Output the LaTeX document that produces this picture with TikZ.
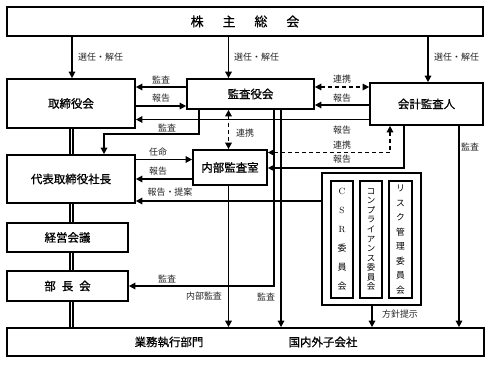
\documentclass[tikz,border=0pt]{standalone}
\usepackage{fontspec}
\newfontfamily\jp{Noto Sans CJK JP}
\newfontfamily\jpm{Noto Sans CJK JP}[FakeBold=0.8]
\usetikzlibrary{arrows.meta}
\begin{document}
\begin{tikzpicture}[x=1bp,y=-1bp,
  box/.style={draw,line width=1.7bp,inner sep=0pt,font=\jpm\fontsize{11.5}{13}\selectfont},
  inbox/.style={draw,line width=1.6bp,inner sep=0pt,align=center},
  lbl/.style={font=\jp\fontsize{9}{10}\selectfont,inner sep=0pt,text=black!85},
  arr/.style={line width=1.5bp,-{Triangle[length=6.5bp,width=6.5bp]}},
  barr/.style={line width=1.5bp,{Triangle[length=6.5bp,width=6.5bp]}-{Triangle[length=6.5bp,width=6.5bp]}},
  dsh/.style={dash pattern=on 4bp off 3bp},
  dbl/.style={double,line width=1.3bp,double distance=1.5bp}]
\useasboundingbox (0,0) rectangle (492,364);
% boxes
\node[box,minimum width=476bp,minimum height=29bp,font=\jpm\fontsize{13}{15}\selectfont] (sh) at (245,21.5)
  {株\hspace{19pt}主\hspace{19pt}総\hspace{19pt}会};
\node[box,minimum width=128bp,minimum height=49bp] (tor) at (71,103.5) {取締役会};
\node[box,minimum width=127bp,minimum height=30bp] (kan) at (250.5,94) {監査役会};
\node[box,minimum width=113bp,minimum height=42bp] (kai) at (426.5,104) {会計監査人};
\node[box,minimum width=74bp,minimum height=35bp] (naibu) at (230,167.5) {内部監査室};
\node[box,minimum width=128bp,minimum height=48bp] (pres) at (71,179) {代表取締役社長};
\node[box,minimum width=121bp,minimum height=29bp] (keiei) at (67.5,237.5) {経営会議};
\node[box,minimum width=121bp,minimum height=30bp] (bucho) at (67.5,286) {部\hspace{6pt}長\hspace{6pt}会};
\node[box,minimum width=477bp,minimum height=28bp] (bot) at (245.5,342) {};
\node[font=\jpm\fontsize{11.5}{13}\selectfont] (gyomu) at (169,342) {業務執行部門};
\node[font=\jpm\fontsize{11.5}{13}\selectfont] (kokunai) at (323,342) {国内外子会社};
\node[box,minimum width=99bp,minimum height=132bp] (csr) at (371.5,239) {};
\node[inbox,minimum width=22bp,minimum height=117bp,font=\fontsize{9}{19}\selectfont] (c1) at (342,239.5)
  {C\\S\\R\\{\jp 委}\\{\jp 員}\\{\jp 会}};
\node[inbox,minimum width=22bp,minimum height=117bp,font=\jp\fontsize{8.5}{9.6}\selectfont] (c2) at (371,239.5)
  {コ\\ン\\プ\\ラ\\イ\\ア\\ン\\ス\\委\\員\\会};
\node[inbox,minimum width=23bp,minimum height=117bp,font=\jp\fontsize{8.8}{14.5}\selectfont] (c3) at (400.5,239.5)
  {リ\\ス\\ク\\管\\理\\委\\員\\会};
% x positions
\coordinate (xa) at (72,0);
\coordinate (xb) at (228.5,0);
\coordinate (xc) at (428,0);
\coordinate (dl) at (71.5,0);
% double line chain
\draw[dbl] (tor.south -| dl) -- (pres.north -| dl);
\draw[dbl] (pres.south -| dl) -- (keiei.north -| dl);
\draw[dbl] (keiei.south -| dl) -- (bucho.north -| dl);
\draw[dbl] (bucho.south -| dl) -- (bot.north -| dl);
% election arrows
\draw[arr] (sh.south -| xa) -- (tor.north -| xa);
\draw[arr] (sh.south -| xb) -- (kan.north -| xb);
\draw[arr] (sh.south -| xc) -- (kai.north -| xc);
\node[lbl,anchor=west] (l1) at (78,57) {選任・解任};
\node[lbl,anchor=west] (l2) at (234,57) {選任・解任};
\node[lbl,anchor=west] (l3) at (434,57) {選任・解任};
% kan <-> tor
\coordinate (y87) at (0,87);
\coordinate (y106) at (0,106);
\draw[arr] (kan.west |- y87) -- (tor.east |- y87);
\draw[arr] (tor.east |- y106) -- (kan.west |- y106);
\node[lbl] (l4) at (161,80) {監査};
\node[lbl] (l5) at (161,98.5) {報告};
% kan <-> kai
\draw[barr,dsh] (kan.east |- y87) -- (kai.west |- y87);
\coordinate (y105) at (0,105);
\draw[arr] (kai.west |- y105) -- (kan.east |- y105);
\node[lbl] (l6) at (342,79.5) {連携};
\node[lbl] (l7) at (342,98) {報告};
% kai -> tor
\coordinate (y119) at (0,119.5);
\draw[arr] (kai.west |- y119) -- (tor.east |- y119);
\node[lbl] (l8) at (342,130) {報告};
% kan -> pres
\coordinate (p1) at (199,134);
\coordinate (p2) at (104,134);
\draw[arr] (kan.south -| p1) -- (p1) -- (p2) -- (pres.north -| p2);
\node[lbl] (l9) at (167,128) {監査};
% kan <-> naibu
\draw[barr,dsh] (kan.south -| xb) -- (naibu.north -| xb);
\node[lbl,anchor=west] (l10) at (236,133) {連携};
% pres <-> naibu
\coordinate (y159) at (0,159.5);
\coordinate (y179) at (0,179);
\draw[arr] (pres.east |- y159) -- (naibu.west |- y159);
\draw[arr] (naibu.west |- y179) -- (pres.east |- y179);
\node[lbl] (l11) at (158,152) {任命};
\node[lbl] (l12) at (158,171.5) {報告};
% csr -> pres
\coordinate (y201) at (0,201);
\draw[arr] (csr.west |- y201) -- (pres.east |- y201);
\node[lbl] (l13) at (170,192.5) {報告・提案};
% kai <-> naibu
\coordinate (q1) at (390,152.5);
\coordinate (q2) at (404,168);
\draw[barr,dsh] (kai.south -| q1) -- (q1) -- (naibu.east |- q1);
\draw[arr] (kai.south -| q2) -- (q2) -- (naibu.east |- q2);
\node[lbl] (l14) at (342,145) {連携};
\node[lbl] (l15) at (342,159.5) {報告};
% kan -> bucho, kan -> bottom
\coordinate (r1) at (274,286);
\coordinate (r2) at (281,0);
\draw[arr] (kan.south -| r1) -- (r1) -- (bucho.east |- r1);
\draw[arr] (kan.south -| r2) -- (bot.north -| r2);
\node[lbl] (l16) at (167,279) {監査};
\node[lbl] (l17) at (266,296.5) {監査};
% naibu -> bottom
\draw[arr] (naibu.south -| xb) -- (bot.north -| xb);
\node[lbl] (l18) at (204,296.5) {内部監査};
% csr -> bottom
\coordinate (s1) at (372,0);
\draw[arr] (csr.south -| s1) -- (bot.north -| s1);
\node[lbl] (l19) at (400,314.5) {方針提示};
% kai -> bottom
\coordinate (t1) at (459,0);
\draw[arr] (kai.south -| t1) -- (bot.north -| t1);
\node[lbl] (l20) at (470,147) {監査};
\end{tikzpicture}
\end{document}
